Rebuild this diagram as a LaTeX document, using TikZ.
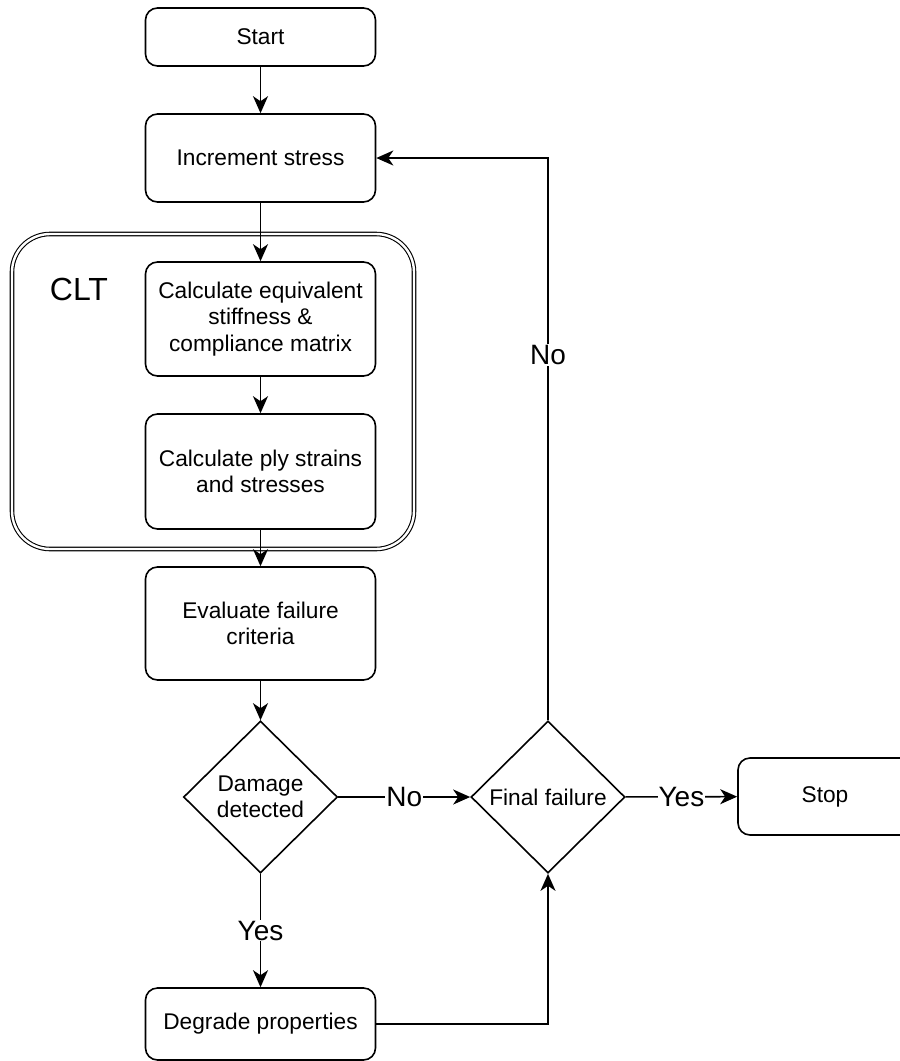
\documentclass[tikz,border=0pt]{standalone}
\usepackage{fontspec}
\setmainfont{Liberation Sans}
\usetikzlibrary{arrows.meta,shapes.geometric}
\tikzset{
  box/.style={draw, line width=1.6pt, rounded corners=12pt, minimum width=230pt, inner sep=0pt, align=center, font=\fontsize{22.7}{26.5}\selectfont},
  dia/.style={draw, line width=1.6pt, diamond, minimum width=154pt, minimum height=152pt, inner sep=0pt, align=center, font=\fontsize{22.7}{25.5}\selectfont},
  arr/.style={line width=1.6pt, -{Stealth[length=17pt,width=15pt,inset=5pt]}},
  lbl/.style={fill=white, inner sep=1pt, font=\fontsize{28}{30}\selectfont},
}
\begin{document}
\begin{tikzpicture}[x=1pt,y=-1pt]
\useasboundingbox (0,0) rectangle (900,1061);
\clip (0,0) rectangle (900,1061);
\draw[line width=1.1pt, double, double distance=2.4pt, rounded corners=38pt] (12,234) rectangle (414,549);
\node[font=\fontsize{32}{34}\selectfont] (clt) at (79,289) {CLT};
\node[box, minimum height=58pt] (start) at (260.5,37) {Start};
\node[box, minimum height=88pt] (inc) at (260.5,158) {Increment stress};
\node[box, minimum height=114pt] (calc1) at (260.5,319) {Calculate equivalent\\stiffness \&\\compliance matrix};
\node[box, minimum height=115pt] (calc2) at (260.5,471.5) {Calculate ply strains\\and stresses};
\node[box, minimum height=113pt] (eval) at (260.5,623.5) {Evaluate failure\\criteria};
\node[dia] (dmg) at (260.5,797) {Damage\\detected};
\node[dia] (fin) at (548,797) {Final failure};
\node[box, minimum width=174pt, minimum height=77pt] (stop) at (825,796.5) {Stop};
\node[box, minimum height=72pt] (deg) at (260.5,1024) {Degrade properties};
\draw[arr] (start) -- (inc);
\draw[arr] (inc) -- (calc1);
\draw[arr] (calc1) -- (calc2);
\draw[arr] (calc2) -- (eval);
\draw[arr] (eval) -- (dmg);
\draw[arr] (dmg) -- node[lbl]{No} (fin);
\draw[arr] (dmg) -- node[lbl]{Yes} (deg);
\draw[arr] (fin) -- node[lbl]{Yes} (stop);
\draw[arr] (fin.north) |- node[lbl, pos=0.325]{No} (inc.east);
\draw[arr] (deg.east) -| (fin.south);
\end{tikzpicture}
\end{document}
